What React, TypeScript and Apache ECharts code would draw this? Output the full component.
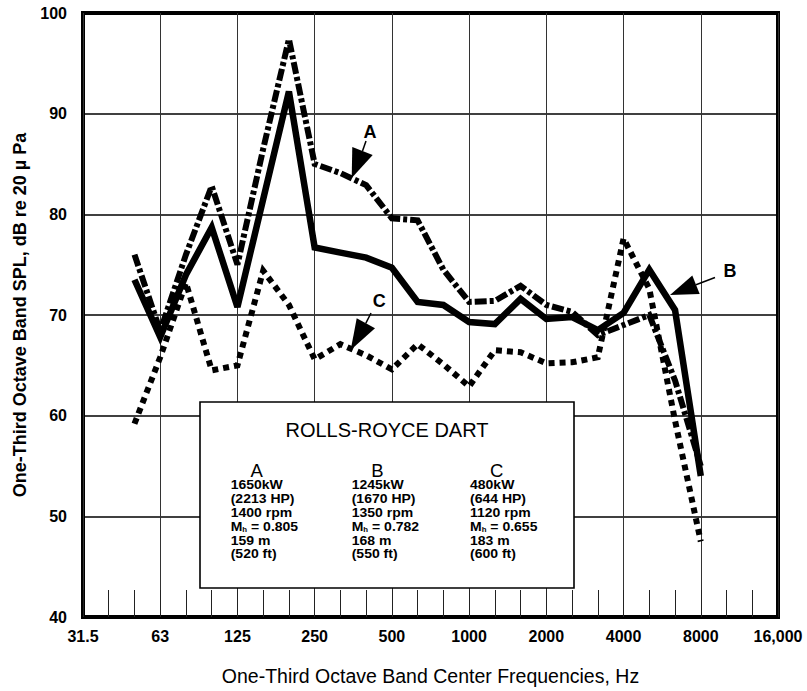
import React, { useEffect, useRef } from 'react';
import * as echarts from 'echarts';

// One-third octave band centre frequencies (Hz) spanning the x axis
const THIRD_OCTAVE_BANDS = [
  '31.5', '40', '50', '63', '80', '100', '125', '160', '200', '250', '315', '400', '500', '630',
  '800', '1000', '1250', '1600', '2000', '2500', '3150', '4000', '5000', '6300', '8000', '10000',
  '12500', '16000',
];
// Octave tick labels
const OCTAVE_LABELS = ['31.5', '63', '125', '250', '500', '1000', '2000', '4000', '8000', '16,000'];

// Measured bands (50 Hz .. 8000 Hz)
const MEASURED_BANDS = [
  '50', '63', '80', '100', '125', '160', '200', '250', '315', '400', '500', '630', '800', '1000',
  '1250', '1600', '2000', '2500', '3150', '4000', '5000', '6300', '8000',
];
// SPL, dB re 20 µPa
const SPL_A = [
  76.0, 68.4, 76.0, 82.8, 75.0, 86.5, 97.4, 85.0, 84.1, 82.9, 79.6, 79.4, 74.5, 71.3, 71.4, 72.9,
  71.0, 70.3, 68.0, 69.0, 70.0, 63.5, 55.0,
];
const SPL_B = [
  73.5, 67.8, 74.0, 78.7, 70.8, 81.5, 92.2, 76.7, 76.2, 75.7, 74.7, 71.3, 71.0, 69.3, 69.1, 71.6,
  69.6, 69.8, 68.5, 70.2, 74.5, 70.5, 54.0,
];
const SPL_C = [
  59.2, 65.8, 73.2, 64.5, 65.0, 74.4, 71.0, 65.6, 67.1, 66.0, 64.6, 67.1, 65.1, 62.9, 66.5, 66.3,
  65.2, 65.3, 65.8, 77.6, 72.6, 59.5, 47.5,
];

const TITLE = 'ROLLS-ROYCE DART';
const CASE_NAMES = ['A', 'B', 'C'];
const CASE_POWER = ['1650kW', '1245kW', '480kW'];
const CASE_HP = ['(2213 HP)', '(1670 HP)', '(644 HP)'];
const CASE_RPM = ['1400 rpm', '1350 rpm', '1120 rpm'];
const CASE_MACH = ['0.805', '0.782', '0.655'];
const CASE_ALT_M = ['159 m', '168 m', '183 m'];
const CASE_ALT_FT = ['(520 ft)', '(550 ft)', '(600 ft)'];

const FONT = '"Liberation Sans", Arial, Helvetica, sans-serif';

const toPairs = (vals: number[]) =>
  vals.map((v, i) => [THIRD_OCTAVE_BANDS.indexOf(MEASURED_BANDS[i]), v]);

function buildGraphic() {
  const els: any[] = [];
  els.push({
    type: 'rect',
    z: 100,
    shape: { x: 200, y: 402, width: 374, height: 186 },
    style: { fill: '#fff', stroke: '#000', lineWidth: 1.6 },
  });
  els.push({
    type: 'text',
    z: 101,
    x: 387,
    y: 430,
    style: {
      text: TITLE,
      fontFamily: FONT,
      fontSize: 20,
      fill: '#000',
      align: 'center',
      verticalAlign: 'middle',
    },
  });
  const headerX = [256.7, 377.5, 496.7];
  const colX = [230.7, 351.7, 470];
  CASE_NAMES.forEach((name, k) => {
    els.push({
      type: 'text',
      z: 101,
      x: headerX[k],
      y: 470,
      style: {
        text: name,
        fontFamily: FONT,
        fontSize: 18.5,
        fill: '#000',
        align: 'center',
        verticalAlign: 'middle',
      },
    });
    const lines = [
      CASE_POWER[k],
      CASE_HP[k],
      CASE_RPM[k],
      null,
      CASE_ALT_M[k],
      CASE_ALT_FT[k],
    ];
    lines.forEach((ln, j) => {
      const base = {
        type: 'text',
        z: 101,
        x: colX[k],
        y: 485 + j * 13.85,
        scaleX: 1.12,
      } as any;
      if (ln !== null) {
        base.style = {
          text: ln,
          fontFamily: FONT,
          fontSize: 12.5,
          fontWeight: 'bold',
          fill: '#000',
          align: 'left',
          verticalAlign: 'middle',
        };
      } else {
        base.style = {
          text: '{m|M}{s|h}{m| = ' + CASE_MACH[k] + '}',
          fontFamily: FONT,
          fontSize: 12.5,
          fontWeight: 'bold',
          fill: '#000',
          align: 'left',
          verticalAlign: 'middle',
          rich: {
            m: { fontFamily: FONT, fontSize: 12.5, fontWeight: 'bold', fill: '#000' },
            s: {
              fontFamily: FONT,
              fontSize: 7,
              fontWeight: 'bold',
              fill: '#000',
              verticalAlign: 'bottom',
              padding: [4, 0, 0, 0],
            },
          },
        };
      }
      els.push(base);
    });
  });

  // annotation labels with arrows
  const labels = [
    { t: 'A', x: 370, y: 131.7 },
    { t: 'B', x: 730, y: 271 },
    { t: 'C', x: 379.3, y: 300.7 },
  ];
  labels.forEach((l) =>
    els.push({
      type: 'text',
      z: 101,
      x: l.x,
      y: l.y,
      style: {
        text: l.t,
        fontFamily: FONT,
        fontSize: 18,
        fontWeight: 'bold',
        fill: '#000',
        align: 'center',
        verticalAlign: 'middle',
      },
    })
  );
  const arrows = [
    { tail: [366, 141], base: [362.5, 151], head: [[351.7, 178], [352.3, 147], [372.7, 155]] },
    { tail: [371, 313], base: [365.8, 323.3], head: [[350.7, 350], [356.7, 318.3], [375, 328.3]] },
    { tail: [715, 277.5], base: [696, 284.7], head: [[670, 295], [699.7, 294], [692.3, 275.4]] },
  ];
  arrows.forEach((a) => {
    els.push({
      type: 'line',
      z: 101,
      shape: { x1: a.tail[0], y1: a.tail[1], x2: a.base[0], y2: a.base[1] },
      style: { stroke: '#000', lineWidth: 1.5 },
    });
    els.push({
      type: 'polygon',
      z: 101,
      shape: { points: a.head },
      style: { fill: '#000' },
    });
  });
  return els;
}

export default function App() {
  const ref = useRef<HTMLDivElement>(null);
  useEffect(() => {
    if (!ref.current) return;
    const chart = echarts.init(ref.current, null, { renderer: 'svg' });
    const option: any = {
      animation: false,
      backgroundColor: '#fff',
      textStyle: { fontFamily: FONT },
      grid: {
        left: 83,
        top: 13,
        right: 29,
        bottom: 68.3,
        show: true,
        borderColor: '#000',
        borderWidth: 4,
        backgroundColor: 'transparent',
      },
      xAxis: {
        type: 'value',
        min: 0,
        max: 27,
        interval: 3,
        name: 'One-Third Octave Band Center Frequencies, Hz',
        nameLocation: 'middle',
        nameGap: 49,
        nameTextStyle: { fontFamily: FONT, fontSize: 19.5, color: '#000' },
        axisLine: { show: false },
        axisTick: { show: true, inside: true, length: 27, lineStyle: { color: '#222', width: 1 } },
        minorTick: { show: true, splitNumber: 3, length: 27, lineStyle: { color: '#222', width: 1 } },
        axisLabel: {
          fontFamily: FONT,
          fontSize: 16,
          fontWeight: 'bold',
          color: '#000',
          margin: 11,
          formatter: (v: number) => OCTAVE_LABELS[Math.round(v / 3)] ?? '',
        },
        splitLine: { show: true, lineStyle: { color: '#333', width: 1 } },
      },
      yAxis: {
        type: 'value',
        min: 40,
        max: 100,
        interval: 10,
        name: 'One-Third Octave Band SPL, dB re 20 \u00b5 Pa',
        nameLocation: 'middle',
        nameGap: 54,
        nameTextStyle: { fontFamily: FONT, fontSize: 18, fontWeight: 'bold', color: '#000' },
        axisLine: { show: false },
        axisTick: { show: false },
        axisLabel: {
          fontFamily: FONT,
          fontSize: 16,
          fontWeight: 'bold',
          color: '#000',
          margin: 16,
          padding: [6, 0, 0, 0],
        },
        splitLine: { show: true, lineStyle: { color: '#000', width: 1.5 } },
      },
      series: [
        {
          name: 'C',
          type: 'line',
          data: toPairs(SPL_C),
          symbol: 'none',
          z: 3,
          lineStyle: { color: '#000', width: 6, type: [6, 5], cap: 'butt', join: 'miter', miterLimit: 3 },
        },
        {
          name: 'A',
          type: 'line',
          data: toPairs(SPL_A),
          symbol: 'none',
          z: 4,
          lineStyle: { color: '#000', width: 6, type: [12, 3, 4, 3], cap: 'butt', join: 'miter', miterLimit: 3 },
        },
        {
          name: 'B',
          type: 'line',
          data: toPairs(SPL_B),
          symbol: 'none',
          z: 5,
          lineStyle: { color: '#000', width: 6.5, join: 'miter', miterLimit: 3 },
        },
      ],
      graphic: buildGraphic(),
    };
    chart.setOption(option);
    return () => chart.dispose();
  }, []);
  return (
    <div
      ref={ref}
      style={{ position: 'absolute', left: 0, top: 0, width: 807, height: 691, background: '#fff' }}
    />
  );
}
